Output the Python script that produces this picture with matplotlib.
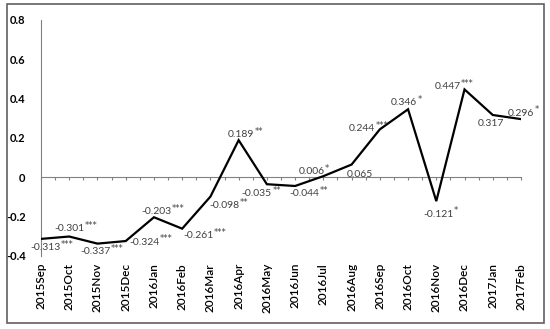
import matplotlib.pyplot as plt
from matplotlib.patches import Rectangle

plt.rcParams['font.family'] = ['Lato', 'DejaVu Sans']

months = ["2015Sep", "2015Oct", "2015Nov", "2015Dec", "2016Jan", "2016Feb",
          "2016Mar", "2016Apr", "2016May", "2016Jun", "2016Jul", "2016Aug",
          "2016Sep", "2016Oct", "2016Nov", "2016Dec", "2017Jan", "2017Feb"]
values = [-0.313, -0.301, -0.337, -0.324, -0.203, -0.261, -0.098, 0.189, -0.035,
          -0.044, 0.006, 0.065, 0.244, 0.346, -0.121, 0.447, 0.317, 0.296]
stars = ["***", "***", "***", "***", "***", "***", "**", "**", "**",
         "**", "*", "", "***", "*", "*", "***", "", "*"]
yticks = [-0.4, -0.2, 0, 0.2, 0.4, 0.6, 0.8]

# label offsets in pixels (dx right, dy down) from the data point
offsets = [(4, 9), (0, -8), (-2, 8), (19, 1), (2, -6), (16, 7), (14, 9), (2, -6), (-10, 9),
           (9, 8), (-12, -5), (8, 10), (-18, -1), (-4, -7), (2, 13), (-17, -3), (-2, 9), (0, -6)]

fig = plt.figure(figsize=(5.5, 3.29), dpi=100)
ax = fig.add_axes([41 / 550, 1 - 256 / 329, 480 / 550, 236 / 329])

x = list(range(len(months)))
ax.plot(x, values, color="black", lw=1.6, solid_joinstyle="miter", zorder=3)

ax.set_xlim(0, len(months) - 1)
ax.set_ylim(-0.4, 0.8)
ax.set_yticks(yticks)
ax.set_yticklabels(["-0.4", "-0.2", "0", "0.2", "0.4", "0.6", "0.8"],
                   fontweight="bold", fontsize=8)
ax.tick_params(axis="y", length=0, pad=11)

for s in ["top", "right"]:
    ax.spines[s].set_visible(False)
ax.spines["left"].set_color("#808080")
ax.spines["left"].set_linewidth(0.8)
ax.spines["bottom"].set_position(("data", 0))
ax.spines["bottom"].set_color("#808080")
ax.spines["bottom"].set_linewidth(0.8)
ax.set_xticks([i * 0.5 for i in range(2 * len(months) - 1)])
ax.tick_params(axis="x", length=2.5, width=0.8, color="#808080", labelbottom=False)

sec = ax.secondary_xaxis(0)
sec.set_xticks(x)
sec.set_xticklabels(months, rotation=90, fontsize=8.5, fontweight="semibold", va="top")
sec.tick_params(length=0, pad=5)
sec.spines["bottom"].set_visible(False)

for xi, v, st, (dx, dy) in zip(x, values, stars, offsets):
    t = ax.annotate(f"{v:.3f}", (xi, v), xytext=(dx, -dy), textcoords="offset pixels",
                    ha="center", va="center", fontsize=7.5, color="#404040", zorder=4)
    if st:
        ax.annotate(st, xy=(1, 0.85), xycoords=t, xytext=(0.3, 0), textcoords="offset points",
                    ha="left", va="center", fontsize=6, family="DejaVu Sans",
                    color="#404040", zorder=4)

fig.patches.append(Rectangle((7 / 550, 1 - 323 / 329), 537 / 550, 319 / 329,
                             transform=fig.transFigure, fill=False,
                             edgecolor="#606060", linewidth=1.2))

fig.savefig("out.png", dpi=100)
